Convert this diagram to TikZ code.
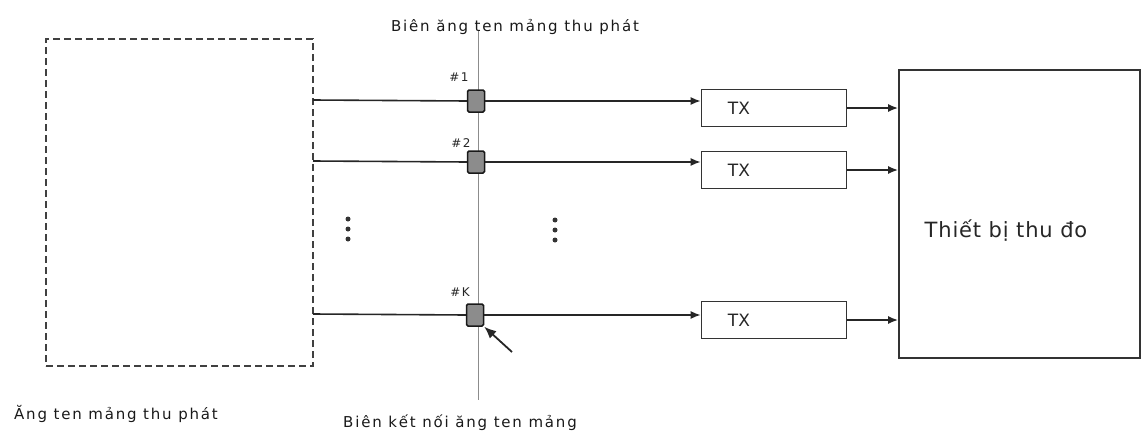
\documentclass[tikz,border=0pt]{standalone}
\usepackage{fontspec}
\setmainfont{DejaVu Sans}
\newfontfamily\lblfont[LetterSpace=12]{DejaVu Sans}
\newfontfamily\tfont[LetterSpace=4]{DejaVu Sans}
\usetikzlibrary{arrows.meta}
\begin{document}
\begin{tikzpicture}[x=1pt,y=-1pt,
  lbl/.style={inner sep=0pt, font=\lblfont\fontsize{15}{17}\selectfont, text=black!90},
  num/.style={inner sep=0pt, font=\lblfont\fontsize{12}{14}\selectfont, text=black!85},
  port/.style={draw=black!90, line width=1.5pt, fill=black!45, minimum width=17pt, minimum height=22pt, inner sep=0pt, rounded corners=1.5pt},
  txbox/.style={draw=black!80, line width=1.6pt, minimum width=145pt, minimum height=37pt, inner sep=0pt},
  wire/.style={line width=1.6pt, black!85},
  arr/.style={wire, -{Latex[length=10pt,width=8pt]}},
  dot/.style={circle, fill=black!80, inner sep=0pt, minimum size=5pt}
]
\useasboundingbox (0,0) rectangle (1146,439);
% array antenna (dashed)
\node[draw=black!75, dash pattern=on 7pt off 4pt, line width=1.6pt, minimum width=267pt, minimum height=327pt, inner sep=0pt] (ant) at (179.5,202.5) {};
% boundary vertical line
\coordinate (vtop) at (478,30);
\coordinate (vbot) at (478,400);
\draw[black!45, line width=0.9pt] (vtop) -- (vbot);
% ports
\node[port] (p1) at (476,101) {};
\node[port] (p2) at (476,162) {};
\node[port] (pk) at (475,315) {};
\node[num] at (459,77) {\#1};
\node[num] at (461,143) {\#2};
\node[num] at (460,292) {\#K};
% TX boxes
\node[txbox] (tx1) at (774,108) {};
\node[txbox] (tx2) at (774,170) {};
\node[txbox] (txk) at (774,320) {};
\foreach \t in {tx1,tx2,txk}{
  \node[inner sep=0pt, font=\fontsize{17}{19}\selectfont, text=black!85, anchor=west] at ([xshift=27pt]\t.west) {TX};
}
% receiver
\node[draw=black!80, line width=1.8pt, minimum width=241pt, minimum height=288pt, inner sep=0pt] (rx) at (1019.5,214) {};
\node[inner sep=0pt, font=\tfont\fontsize{21}{24}\selectfont, text=black!85] (rxl) at (1006,231) {Thiết bị thu đo};
% wires from antenna to ports
\coordinate (a1) at (313,100);
\coordinate (a2) at (313,161);
\coordinate (ak) at (313,314);
\draw[wire] (a1) -- (p1.west);
\draw[wire] (a2) -- (p2.west);
\draw[wire] (ak) -- (pk.west);
% ports to TX
\draw[arr] (p1.east) -- (tx1.west|-p1.east);
\draw[arr] (p2.east) -- (tx2.west|-p2.east);
\draw[arr] (pk.east) -- (txk.west|-pk.east);
% TX to receiver
\draw[arr] (tx1.east) -- (rx.west|-tx1.east);
\draw[arr] (tx2.east) -- (rx.west|-tx2.east);
\draw[arr] (txk.east) -- (rx.west|-txk.east);
% dots
\foreach \y [count=\i] in {219,229,239}{
  \node[dot] (ld\i) at (348,\y) {};
  \node[dot] (md\i) at (555,\y+1) {};
}
% pointer arrow
\coordinate (ptail) at (512,352);
\draw[line width=1.8pt, black!85, -{Latex[length=12pt,width=10pt]}] (ptail) -- (pk.south east);
% labels
\node[lbl] (ltop) at (515,27) {Biên ăng ten mảng thu phát};
\node[lbl] (lant) at (116,414) {Ăng ten mảng thu phát};
\node[lbl] (lbnd) at (460,423) {Biên kết nối ăng ten mảng};
\end{tikzpicture}
\end{document}
